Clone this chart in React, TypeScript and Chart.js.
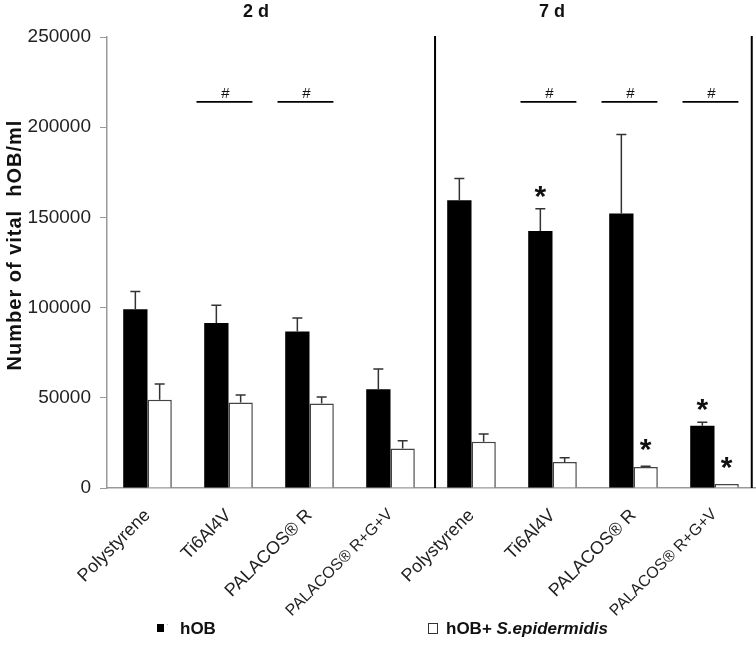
import React, { useEffect, useRef } from "react";
import { Chart, registerables } from "chart.js";

Chart.register(...registerables);

const categories = [
  "Polystyrene", "Ti6Al4V", "PALACOS® R", "PALACOS® R+G+V",
  "Polystyrene", "Ti6Al4V", "PALACOS® R", "PALACOS® R+G+V",
];
const hOB = [99100, 91400, 86700, 54800, 159500, 142500, 152100, 34500];
const hOBErr = [9800, 9900, 7600, 11100, 12100, 12300, 43900, 2000];
const hOBSepi = [48900, 47400, 46900, 21900, 25600, 14400, 11600, 2200];
const hOBSepiErr = [8700, 4100, 3500, 4300, 4300, 2400, 400, 0];
const yTicks = [0, 50000, 100000, 150000, 200000, 250000];
const periods = ["2 d", "7 d"];
// significance markers: [category index, dataset index]
const stars = [[5, 0], [6, 1], [7, 0], [7, 1]];
// "#" bracket lines: category indices, value level
const hashCats = [1, 2, 5, 6, 7];
const hashLevel = 214000;

const FONT = "'Liberation Sans', Arial, sans-serif";

const overlay = {
  id: "overlay",
  afterDatasetsDraw(chart: any) {
    const ctx = chart.ctx;
    const x = chart.scales.x;
    const y = chart.scales.y;
    const area = chart.chartArea;
    const errs = [hOBErr, hOBSepiErr];
    const vals = [hOB, hOBSepi];
    ctx.save();
    // error bars
    ctx.strokeStyle = "#333";
    ctx.lineWidth = 1.5;
    for (let d = 0; d < 2; d++) {
      const meta = chart.getDatasetMeta(d);
      meta.data.forEach((bar: any, i: number) => {
        const e = errs[d][i];
        if (!e) return;
        const top = y.getPixelForValue(vals[d][i] + e);
        ctx.beginPath();
        ctx.moveTo(bar.x, bar.y);
        ctx.lineTo(bar.x, top);
        ctx.moveTo(bar.x - 5, top);
        ctx.lineTo(bar.x + 5, top);
        ctx.stroke();
      });
    }
    // stars
    ctx.fillStyle = "#111";
    ctx.font = `bold 30px ${FONT}`;
    ctx.textAlign = "center";
    const m = ctx.measureText("*");
    for (const [i, d] of stars) {
      const bar: any = chart.getDatasetMeta(d).data[i];
      const top = y.getPixelForValue(vals[d][i] + errs[d][i]);
      const cy = top - (d === 0 ? 17 : 21);
      ctx.fillText("*", bar.x, cy + (m.actualBoundingBoxAscent - m.actualBoundingBoxDescent) / 2);
    }
    // hash lines
    const cw = x.getPixelForValue(1) - x.getPixelForValue(0);
    const hy = y.getPixelForValue(hashLevel);
    ctx.strokeStyle = "#000";
    ctx.lineWidth = 1.8;
    ctx.font = `15px ${FONT}`;
    ctx.textBaseline = "alphabetic";
    for (const c of hashCats) {
      const cx = x.getPixelForValue(c) - 0.05 * cw;
      ctx.beginPath();
      ctx.moveTo(cx - 0.345 * cw, hy);
      ctx.lineTo(cx + 0.345 * cw, hy);
      ctx.stroke();
      ctx.fillText("#", cx + 1, hy - 4);
    }
    // separators
    ctx.lineWidth = 2;
    for (const p of [3.55, 7.46]) {
      const sx = x.getPixelForValue(p);
      ctx.beginPath();
      ctx.moveTo(sx, area.top - 1);
      ctx.lineTo(sx, area.bottom);
      ctx.stroke();
    }
    // period labels
    ctx.font = `bold 18px ${FONT}`;
    ctx.textBaseline = "middle";
    ctx.fillText(periods[0], (x.getPixelForValue(1) + x.getPixelForValue(2)) / 2 - 13, 12);
    ctx.fillText(periods[1], (x.getPixelForValue(5) + x.getPixelForValue(6)) / 2 - 41, 12);
    // y title
    ctx.save();
    ctx.translate(15, 245);
    ctx.rotate(-Math.PI / 2);
    ctx.font = `bold 20px ${FONT}`;
    (ctx as any).letterSpacing = "1px";
    ctx.fillText("Number of vital  hOB/ml", 0, 0);
    ctx.restore();
    // legend
    ctx.textAlign = "left";
    ctx.fillStyle = "#000";
    ctx.fillRect(157, 624, 7, 8);
    ctx.fillStyle = "#bbb";
    ctx.fillRect(167, 624, 1, 1);
    ctx.fillStyle = "#111";
    ctx.font = `bold 17px ${FONT}`;
    ctx.fillText("hOB", 180, 629);
    ctx.strokeStyle = "#333";
    ctx.lineWidth = 1;
    ctx.strokeRect(428.5, 623.5, 9, 10);
    ctx.fillText("hOB+ ", 446, 629);
    const w1 = ctx.measureText("hOB+ ").width;
    ctx.font = `italic bold 17px ${FONT}`;
    ctx.fillText("S.epidermidis", 446 + w1, 629);
    ctx.restore();
  },
};

export default function App() {
  const ref = useRef<HTMLCanvasElement>(null);
  useEffect(() => {
    const chart = new Chart(ref.current!, {
      type: "bar",
      data: {
        labels: categories,
        datasets: [
          {
            label: "hOB",
            data: hOB,
            backgroundColor: "#000",
            borderColor: "#000",
            borderWidth: 0,
            categoryPercentage: 0.6,
            barPercentage: 1,
          },
          {
            label: "hOB+ S.epidermidis",
            data: hOBSepi,
            backgroundColor: "#fff",
            borderColor: "#444",
            borderWidth: { top: 1.5, left: 1.5, right: 1.5, bottom: 0 },
            borderSkipped: "bottom",
            categoryPercentage: 0.6,
            barPercentage: 1,
          },
        ],
      },
      options: {
        responsive: false,
        animation: false,
        layout: { padding: { top: 37, right: 1, left: 0, bottom: 0 } },
        plugins: { legend: { display: false }, tooltip: { enabled: false } },
        scales: {
          x: {
            grid: { display: false, drawTicks: false },
            border: { color: "#999", width: 1.5 },
            ticks: {
              minRotation: 45,
              maxRotation: 45,
              padding: 17,
              color: "#222",
              font: (c: any) => ({ family: FONT, size: c.index % 4 === 3 ? 16 : 18 }),
            },
            afterFit: (s: any) => { s.height = 183; },
          },
          y: {
            min: 0,
            max: 250000,
            afterBuildTicks: (s: any) => { s.ticks = yTicks.map((v) => ({ value: v })); },
            grid: { drawOnChartArea: false, drawTicks: true, tickLength: 7, color: "#999" },
            border: { color: "#999", width: 1.5 },
            ticks: {
              padding: 9,
              color: "#222",
              font: { family: FONT, size: 19 },
              callback: (v: any) => String(v),
            },
            afterFit: (s: any) => { s.width = 107; },
          },
        },
      },
      plugins: [overlay],
    });
    return () => chart.destroy();
  }, []);
  return (
    <div style={{ position: "absolute", left: 0, top: 0, width: 756, height: 671, background: "#fff" }}>
      <canvas ref={ref} width={756} height={671} />
    </div>
  );
}
